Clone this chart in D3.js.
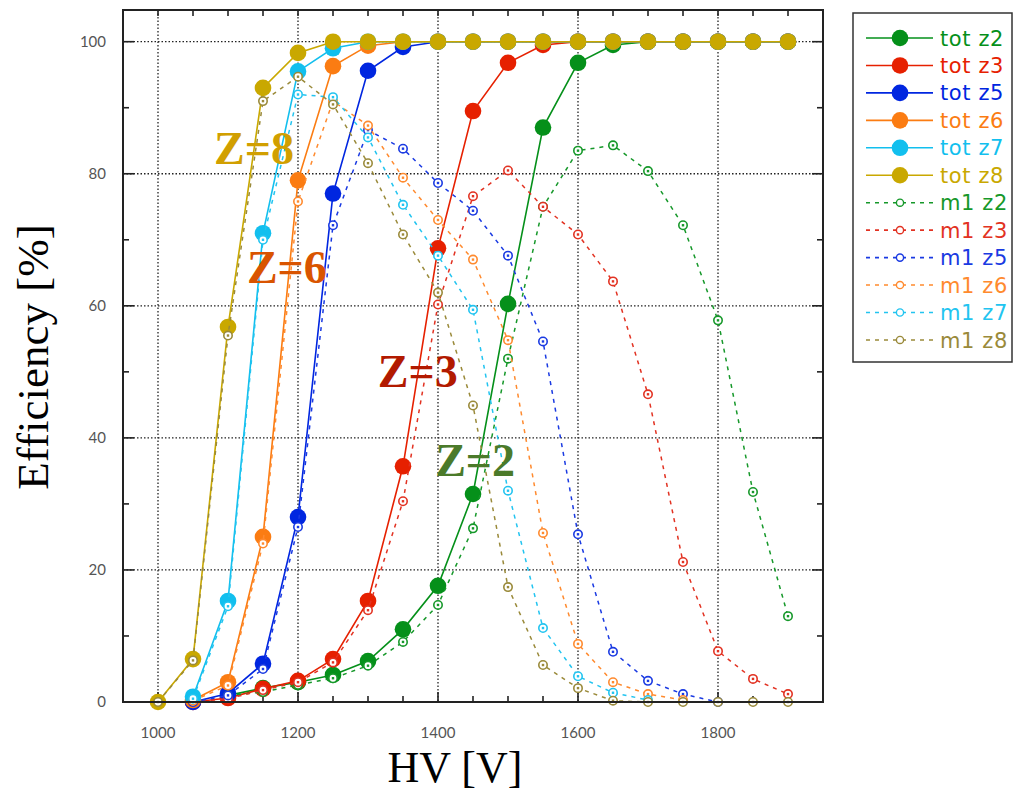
<!DOCTYPE html>
<html>
<head>
<meta charset="utf-8">
<script src="https://cdn.jsdelivr.net/npm/d3@7"></script>
<style>
  body { margin: 0; background: #fff; }
  svg { display: block; }
</style>
</head>
<body>
<div id="chart"></div>
<script>
// HV scan points
const HV = [1000, 1050, 1100, 1150, 1200, 1250, 1300, 1350, 1400, 1450, 1500, 1550, 1600, 1650, 1700, 1750, 1800, 1850, 1900];

// total efficiency per charge
const totZ2 = [null, null, 1.0, 2.1, 3.0, 4.1, 6.2, 11.0, 17.6, 31.5, 60.3, 87.0, 96.8, 99.5, 100, 100, 100, 100, 100];
const totZ3 = [null, 0, 0.6, 2.0, 3.2, 6.5, 15.3, 35.7, 68.7, 89.5, 96.8, 99.5, 100, 100, 100, 100, 100, 100, 100];
const totZ5 = [null, 0, 1.3, 5.8, 28.0, 77.0, 95.6, 99.2, 100, 100, 100, 100, 100, 100, 100, 100, 100, 100, 100];
const totZ6 = [null, 0.3, 3.0, 25.0, 79.0, 96.3, 99.4, 100, 100, 100, 100, 100, 100, 100, 100, 100, 100, 100, 100];
const totZ7 = [null, 0.8, 15.3, 71.0, 95.5, 99.0, 100, 100, 100, 100, 100, 100, 100, 100, 100, 100, 100, 100, 100];
const totZ8 = [0, 6.5, 56.8, 93.0, 98.3, 100, 100, 100, 100, 100, 100, 100, 100, 100, 100, 100, 100, 100, 100];

// m1 efficiency per charge
const m1Z2 = [null, null, 1.0, 1.5, 2.6, 3.6, 5.5, 9.1, 14.7, 26.3, 52.0, 75.0, 83.5, 84.3, 80.4, 72.2, 57.8, 31.8, 13.0];
const m1Z3 = [null, 0, 0.5, 1.8, 3.0, 6.0, 13.9, 30.4, 60.2, 76.6, 80.5, 75.0, 70.8, 63.7, 46.6, 21.2, 7.7, 3.5, 1.2];
const m1Z5 = [null, 0, 1.0, 5.0, 26.5, 72.2, 86.6, 83.8, 78.6, 74.4, 67.6, 54.6, 25.4, 7.6, 3.2, 1.2, 0, null, null];
const m1Z6 = [null, 0.2, 2.5, 24.0, 75.8, 91.0, 87.3, 79.4, 73.0, 67.0, 54.8, 25.6, 8.8, 3.0, 1.2, 0.3, null, null, null];
const m1Z7 = [null, 0.5, 14.5, 70.0, 92.0, 91.6, 85.5, 75.3, 67.6, 59.4, 32.0, 11.2, 3.9, 1.4, 0.3, null, null, null, null];
const m1Z8 = [0, 6.3, 55.5, 91.0, 94.7, 90.5, 81.6, 70.8, 62.0, 44.9, 17.4, 5.6, 2.1, 0.2, 0, 0, 0, 0, 0];

const seriesNames = ["tot z2", "tot z3", "tot z5", "tot z6", "tot z7", "tot z8",
                     "m1 z2", "m1 z3", "m1 z5", "m1 z6", "m1 z7", "m1 z8"];
const seriesValues = [totZ2, totZ3, totZ5, totZ6, totZ7, totZ8, m1Z2, m1Z3, m1Z5, m1Z6, m1Z7, m1Z8];

const xTicks = [1000, 1200, 1400, 1600, 1800];
const yTicks = [0, 20, 40, 60, 80, 100];

// annotations: label, HV position, efficiency position
const notes = [
    { text: "Z=8", hv: 1080, eff: 81.5, color: "#d19f00" },
    { text: "Z=6", hv: 1127, eff: 63.5, color: "#d95400" },
    { text: "Z=3", hv: 1314, eff: 47.7, color: "#b21a00" },
    { text: "Z=2", hv: 1396, eff: 34.3, color: "#4b7a2a" }
];

// colours
const totColors = ["#05901a", "#e62000", "#0026e0", "#fb7c12", "#12bfee", "#c9a800"];
const m1Colors = ["#16982a", "#e23222", "#1a3ae2", "#ff8a2e", "#22c4f0", "#9a8a3a"];
const colors = totColors.concat(m1Colors);

const W = 1015, H = 794;
const plot = { left: 123, right: 823, top: 10, bottom: 702 };

const svg = d3.select("#chart").append("svg")
    .attr("width", W)
    .attr("height", H);

const x = d3.scaleLinear().domain([950, 1950]).range([plot.left, plot.right]);
const y = d3.scaleLinear().domain([0, 104.8]).range([plot.bottom, plot.top]);

// grid
const grid = svg.append("g")
    .attr("stroke", "#222")
    .attr("stroke-width", 1.3)
    .attr("stroke-dasharray", "1.5,2");
grid.selectAll(".gx").data(xTicks).join("line")
    .attr("x1", d => x(d)).attr("x2", d => x(d))
    .attr("y1", plot.top).attr("y2", plot.bottom);
grid.selectAll(".gy").data(yTicks.filter(d => d > 0)).join("line")
    .attr("x1", plot.left).attr("x2", plot.right)
    .attr("y1", d => y(d)).attr("y2", d => y(d));

// axes with inward ticks
const xMinor = d3.range(1000, 1901, 50);
const yMinor = d3.range(0, 101, 10);
const axes = svg.append("g").attr("stroke", "#222").attr("stroke-width", 1.6);
axes.selectAll(".tb").data(xMinor).join("line")
    .attr("x1", d => x(d)).attr("x2", d => x(d))
    .attr("y1", plot.bottom).attr("y2", d => plot.bottom - (d % 200 === 0 ? 10 : 6));
axes.selectAll(".tt").data(xMinor).join("line")
    .attr("x1", d => x(d)).attr("x2", d => x(d))
    .attr("y1", plot.top).attr("y2", plot.top + 6);
axes.selectAll(".tl").data(yMinor).join("line")
    .attr("x1", plot.left).attr("x2", d => plot.left + (d % 20 === 0 ? 11 : 6))
    .attr("y1", d => y(d)).attr("y2", d => y(d));
axes.selectAll(".tr").data(yMinor).join("line")
    .attr("x1", plot.right).attr("x2", d => plot.right - (d % 20 === 0 ? 11 : 6))
    .attr("y1", d => y(d)).attr("y2", d => y(d));

svg.selectAll(".xl").data(xTicks).join("text")
    .attr("x", d => x(d)).attr("y", 738)
    .attr("text-anchor", "middle")
    .attr("font-family", "Lato, 'Open Sans', sans-serif")
    .attr("font-size", 15).attr("fill", "#555")
    .text(d => d);
svg.selectAll(".yl").data(yTicks).join("text")
    .attr("x", 106).attr("y", d => y(d)).attr("dy", "0.36em")
    .attr("text-anchor", "end")
    .attr("font-family", "Lato, 'Open Sans', sans-serif")
    .attr("font-size", 15).attr("fill", "#555")
    .text(d => d);

// titles
svg.append("text")
    .attr("x", 455).attr("y", 782)
    .attr("text-anchor", "middle")
    .attr("font-family", "'Liberation Serif', 'Times New Roman', serif")
    .attr("font-size", 44)
    .text("HV [V]");
svg.append("text")
    .attr("transform", "translate(48,357) rotate(-90)")
    .attr("text-anchor", "middle")
    .attr("font-family", "'Liberation Serif', 'Times New Roman', serif")
    .attr("font-size", 45)
    .text("Efficiency [%]");

// series
const line = d3.line()
    .defined(d => d.v !== null)
    .x(d => x(d.hv))
    .y(d => y(d.v));

const series = seriesNames.map((name, i) => ({
    name,
    dashed: name.startsWith("m1"),
    color: colors[i],
    pts: HV.map((hv, j) => ({ hv, v: seriesValues[i][j] }))
}));

const dataG = svg.append("g");
series.forEach(s => {
    const g = dataG.append("g");
    g.append("path")
        .attr("d", line(s.pts))
        .attr("fill", "none")
        .attr("stroke", s.color)
        .attr("stroke-width", s.dashed ? 1.5 : 1.6)
        .attr("stroke-dasharray", s.dashed ? "4,5" : null);
    const pts = s.pts.filter(d => d.v !== null);
    if (s.dashed) {
        g.selectAll("circle").data(pts).join("circle")
            .attr("cx", d => x(d.hv)).attr("cy", d => y(d.v))
            .attr("r", 4.2)
            .attr("fill", "#fff")
            .attr("stroke", s.color)
            .attr("stroke-width", 1.6);
        g.selectAll("rect").data(pts).join("rect")
            .attr("x", d => x(d.hv) - 1.2).attr("y", d => y(d.v) - 1.2)
            .attr("width", 2.4).attr("height", 2.4)
            .attr("fill", s.color);
    } else {
        g.selectAll("circle").data(pts).join("circle")
            .attr("cx", d => x(d.hv)).attr("cy", d => y(d.v))
            .attr("r", 8.3)
            .attr("fill", s.color);
    }
});

// frame
svg.append("rect")
    .attr("x", plot.left).attr("y", plot.top)
    .attr("width", plot.right - plot.left).attr("height", plot.bottom - plot.top)
    .attr("fill", "none").attr("stroke", "#222").attr("stroke-width", 2);

// annotations
svg.selectAll(".note").data(notes).join("text")
    .attr("x", d => x(d.hv)).attr("y", d => y(d.eff))
    .attr("font-family", "'Liberation Serif', 'Times New Roman', serif")
    .attr("font-weight", "bold")
    .attr("font-size", 46)
    .attr("fill", d => d.color)
    .text(d => d.text);

// legend
const lg = svg.append("g");
lg.append("rect")
    .attr("x", 853).attr("y", 13).attr("width", 159).attr("height", 349)
    .attr("fill", "#fff").attr("stroke", "#333").attr("stroke-width", 1.5);
series.forEach((s, i) => {
    const cy = 38 + i * 27.45;
    lg.append("line")
        .attr("x1", 866).attr("x2", 933).attr("y1", cy).attr("y2", cy)
        .attr("stroke", s.color).attr("stroke-width", 1.6)
        .attr("stroke-dasharray", s.dashed ? "4,5" : null);
    if (s.dashed) {
        lg.append("circle").attr("cx", 900).attr("cy", cy).attr("r", 3.6)
            .attr("fill", "#fff").attr("stroke", s.color).attr("stroke-width", 1.4);
    } else {
        lg.append("circle").attr("cx", 900).attr("cy", cy).attr("r", 8.3)
            .attr("fill", s.color);
    }
    lg.append("text")
        .attr("x", 940).attr("y", cy).attr("dy", "0.36em")
        .attr("font-family", "'DejaVu Sans', sans-serif")
        .attr("font-size", 21)
        .attr("letter-spacing", 0.6)
        .attr("fill", s.color)
        .text(s.name);
});
</script>
</body>
</html>
